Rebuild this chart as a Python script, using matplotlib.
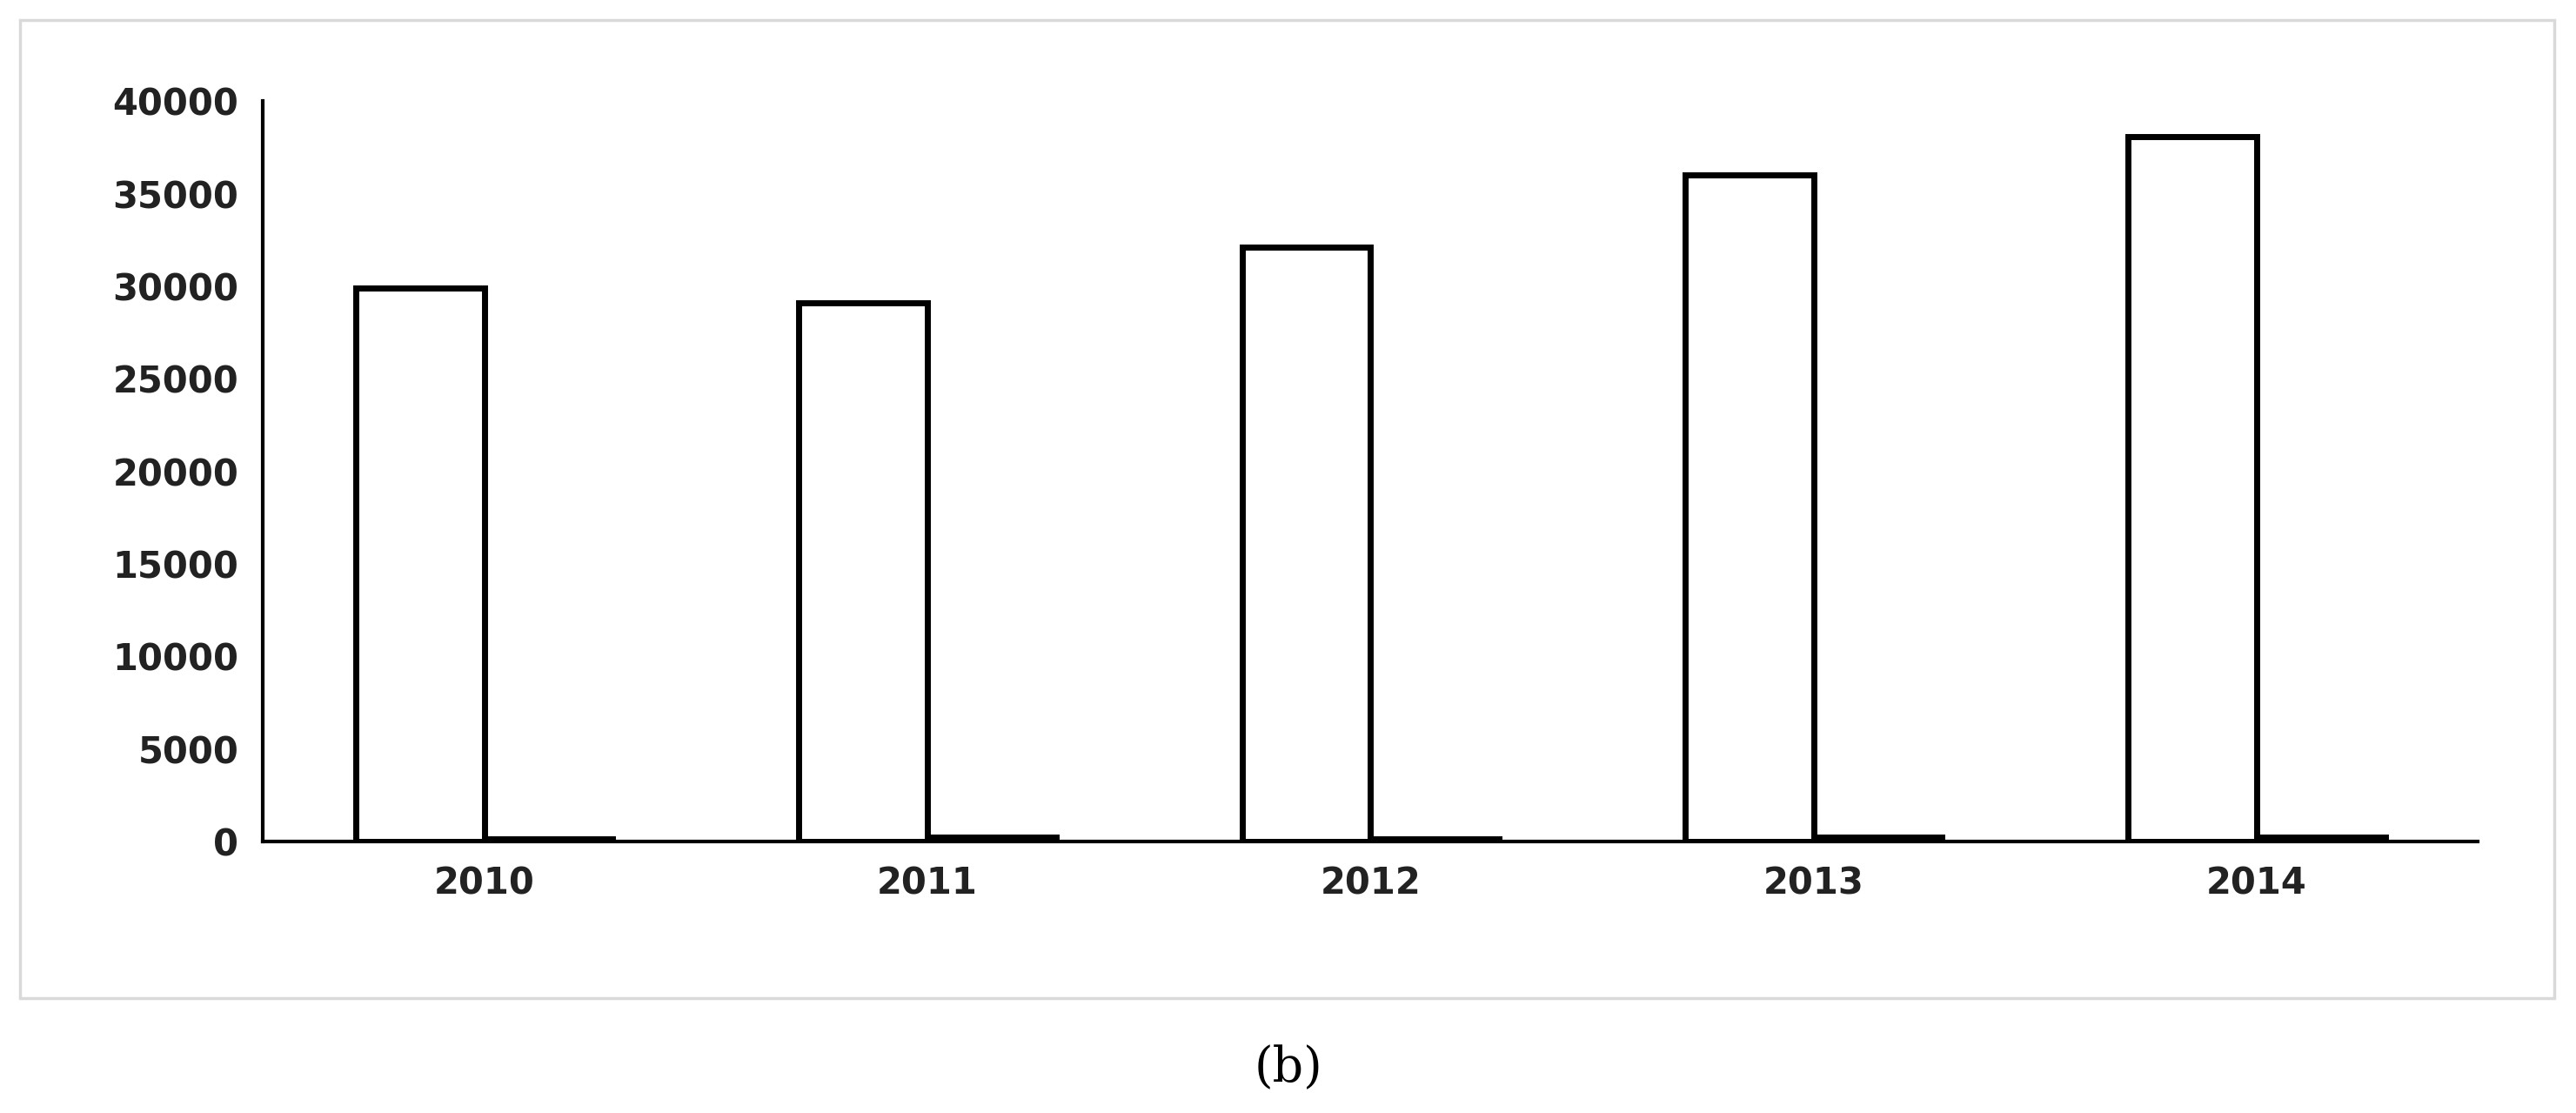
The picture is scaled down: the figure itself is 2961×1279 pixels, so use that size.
import matplotlib.pyplot as plt
import numpy as np
from matplotlib.patches import Rectangle

years = ["2010", "2011", "2012", "2013", "2014"]
big = [29900, 29100, 32100, 36000, 38100]
small = [150, 250, 150, 250, 250]

fig = plt.figure(figsize=(29.61, 12.79), dpi=100)
fig.patches.append(Rectangle((0.004, 0.525 - 0.525 + 0.525 - 0.525 + 0.0), 0, 0, transform=fig.transFigure))
# outer frame
fig.patches.append(Rectangle((12 / 1568, 1 - 607 / 677), (1555 - 12) / 1568, (607 - 12) / 677,
                             transform=fig.transFigure, fill=False, edgecolor='#d9d9d9', linewidth=2.5))
ax = fig.add_axes([0.102, 0.244, 0.860, 0.665])

x = np.arange(len(years))
w = 0.29
ax.bar(x - w / 2, big, w, facecolor='white', edgecolor='black', linewidth=5)
ax.bar(x + w / 2, small, w, facecolor='black', edgecolor='black', linewidth=5)

ax.set_xlim(-0.5, 4.5)
ax.set_ylim(0, 40000)
ax.set_yticks(range(0, 40001, 5000))
ax.set_xticks(x)
ax.set_xticklabels(years)
for s in ['top', 'right']:
    ax.spines[s].set_visible(False)
ax.spines['left'].set_linewidth(3)
ax.spines['bottom'].set_linewidth(3)
ax.tick_params(length=0, labelsize=30, pad=20)
for t in ax.get_xticklabels() + ax.get_yticklabels():
    t.set_fontweight('bold')
    t.set_color('#222222')

fig.text(0.5, 1 - 650 / 677, "(b)", ha='center', va='center', fontsize=40, family='DejaVu Serif')
fig.savefig("out.png")
